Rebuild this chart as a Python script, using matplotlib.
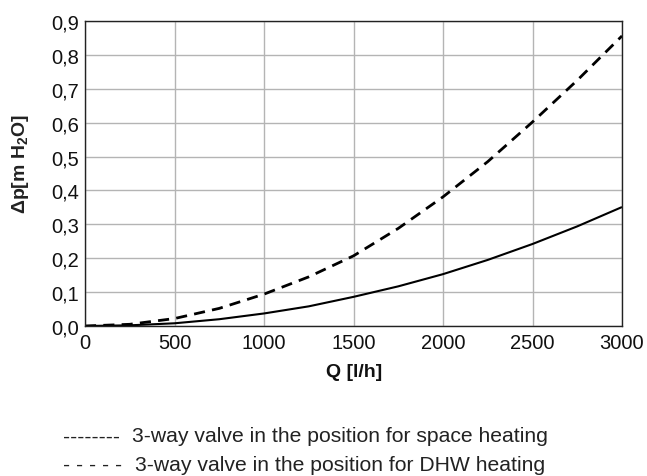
import matplotlib
matplotlib.use("Agg")
import matplotlib.pyplot as plt

plt.rcParams['font.family'] = ['Liberation Sans', 'DejaVu Sans']
plt.rcParams['mathtext.fontset'] = 'custom'
plt.rcParams['mathtext.rm'] = 'Liberation Sans'
plt.rcParams['mathtext.bf'] = 'Liberation Sans:bold'

q = [0, 250, 500, 750, 1000, 1250, 1500, 1750, 2000, 2250, 2500, 2750, 3000]
dp_space = [0, 0.002, 0.008, 0.02, 0.037, 0.058, 0.086, 0.117, 0.153, 0.195, 0.242, 0.294, 0.351]
dp_dhw = [0, 0.005, 0.022, 0.052, 0.094, 0.145, 0.207, 0.288, 0.381, 0.485, 0.602, 0.725, 0.856]
xticks = [0, 500, 1000, 1500, 2000, 2500, 3000]
yticks = [0.0, 0.1, 0.2, 0.3, 0.4, 0.5, 0.6, 0.7, 0.8, 0.9]
ytick_labels = ["0,0", "0,1", "0,2", "0,3", "0,4", "0,5", "0,6", "0,7", "0,8", "0,9"]
legend_dashes = ["--------", "- - - - -"]
legend_labels = ["3-way valve in the position for space heating",
                 "3-way valve in the position for DHW heating"]

fig = plt.figure(figsize=(6.47, 4.77), dpi=100)
ax = fig.add_axes([85/647, 1-327/477, (622-85)/647, (327-22)/477])

ax.plot(q, dp_space, color='black', lw=1.5, solid_capstyle='butt')
ax.plot(q, dp_dhw, color='black', lw=2.0, dashes=(4, 2.6))

ax.set_xlim(0, 3000)
ax.set_ylim(0, 0.9)
ax.set_xticks(xticks)
ax.set_xticklabels([str(t) for t in xticks])
ax.set_yticks(yticks)
ax.set_yticklabels(ytick_labels)
ax.tick_params(length=0, labelsize=14.5, colors='#111111')
ax.tick_params(axis='x', pad=5)
ax.tick_params(axis='y', pad=4)
ax.grid(True, color='#b4b4b4', lw=1.0)
ax.set_axisbelow(True)
for s in ax.spines.values():
    s.set_color('#222222')
    s.set_linewidth(1.0)

fig.text(354/647, 1-373/477, "Q [l/h]", fontsize=14, fontweight='bold',
         ha='center', va='center', color='#111111')
fig.text(21/647, 1-164/477, "\u0394p[m H$_\\mathbf{2}$O]", rotation=90, ha='center', va='center',
         fontsize=14, fontweight='bold', color='#222222')

fig.text(63/647, 1-437/477, legend_dashes[0], fontsize=15.2, color='#222222', va='center', ha='left')
fig.text(132/647, 1-437/477, legend_labels[0], fontsize=15.2, color='#222222', va='center', ha='left')
fig.text(63/647, 1-466/477, legend_dashes[1], fontsize=15.2, color='#222222', va='center', ha='left')
fig.text(135/647, 1-466/477, legend_labels[1], fontsize=15.2, color='#222222', va='center', ha='left')

fig.savefig("out.png", dpi=100)
